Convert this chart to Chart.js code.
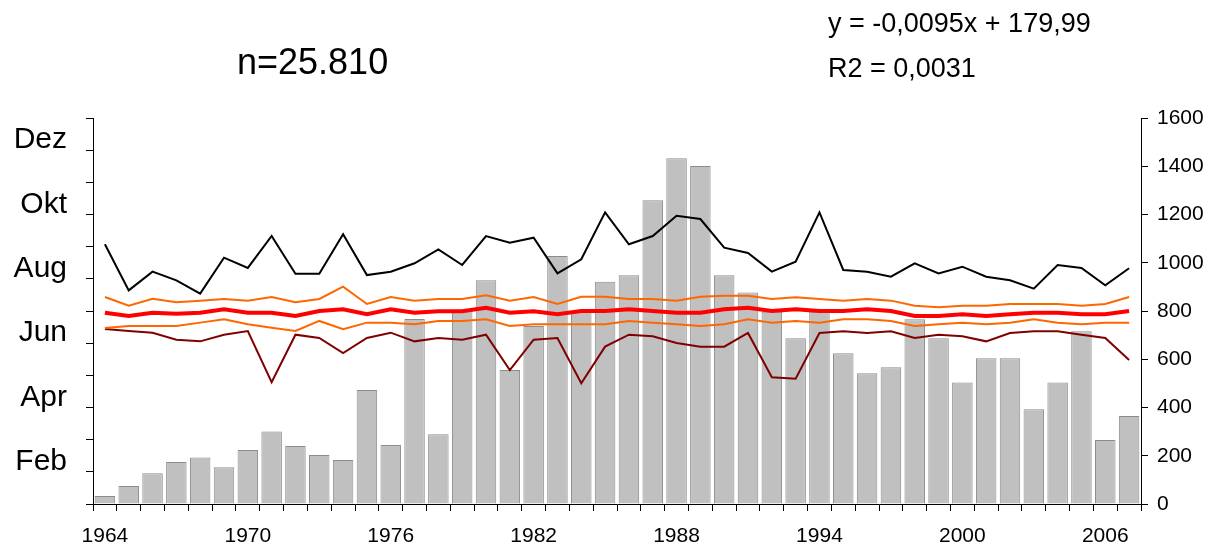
<!DOCTYPE html>
<html>
<head>
<meta charset="utf-8">
<script src="https://cdn.jsdelivr.net/npm/chart.js@4.4.1/dist/chart.umd.min.js"></script>
<style>
    body { margin: 0; background: #fff; }
    #wrap { position: relative; width: 1209px; height: 547px; }
    #chart { display: block; }
    .note { position: absolute; font-family: "Liberation Sans", Arial, sans-serif; line-height: 1; color: #000; white-space: nowrap; }
</style>
</head>
<body>
<div id="wrap">
    <canvas id="chart" width="1209" height="547"></canvas>
    <div class="note" style="left:237px; top:44px; font-size:36px;">n=25.810</div>
    <div class="note" style="left:828px; top:10px; font-size:27px;">y = -0,0095x + 179,99</div>
    <div class="note" style="left:828px; top:55px; font-size:27px;">R2 = 0,0031</div>
</div>
<script>
// Years on the x axis
var years = [
    1964, 1965, 1966, 1967, 1968, 1969, 1970, 1971, 1972, 1973, 1974,
    1975, 1976, 1977, 1978, 1979, 1980, 1981, 1982, 1983, 1984, 1985,
    1986, 1987, 1988, 1989, 1990, 1991, 1992, 1993, 1994, 1995, 1996,
    1997, 1998, 1999, 2000, 2001, 2002, 2003, 2004, 2005, 2006, 2007
];

// Number of records per year (bars, right axis)
var counts = [
    33, 75, 127, 174, 193, 152, 224, 301, 240, 203, 182,
    473, 245, 767, 289, 800, 927, 555, 738, 1028, 797, 921,
    948, 1259, 1433, 1401, 948, 877, 797, 687, 797, 625, 542,
    567, 766, 687, 504, 604, 604, 393, 504, 716, 265, 365
];

// Day of year (left axis)
var latestDay = [
    245.6, 202, 219.7, 211.5, 198.9, 232.9, 223.2, 253.4, 217.8, 217.8, 255,
    216.5, 219.7, 227.6, 240.8, 226, 253.4, 247.1, 251.8, 218.1, 231.4, 275.8,
    245.6, 253.4, 272.6, 269.5, 242.4, 237.4, 219.7, 229.1, 275.8, 221.3, 219.7,
    214.9, 227.6, 218.1, 224.4, 214.9, 211.5, 203.6, 226, 223.2, 206.8, 222.9
];
var upperQuartile = [
    195.7, 187.5, 194.1, 190.7, 192.3, 193.9, 192.3, 195.7, 190.7, 193.9, 205.5,
    189.1, 195.7, 192.3, 193.9, 193.9, 197.3, 192.3, 195.7, 189.1, 196, 196,
    193.9, 193.9, 192.3, 196, 197, 197, 193.9, 195.4, 193.9, 192.3, 193.9,
    192.3, 187.5, 186, 187.5, 187.5, 189.1, 189.1, 189.1, 187.5, 189.1, 195.7
];
var meanDay = [
    180.9, 177.8, 180.9, 180, 180.9, 184.1, 180.9, 180.9, 177.8, 182.5, 184.1,
    179.4, 184.1, 180.9, 182.2, 182.2, 185.6, 180.9, 182.2, 179.4, 182.5, 182.5,
    184.1, 182.5, 180.9, 180.9, 184.1, 185.6, 182.5, 184.1, 182.5, 182.5, 184.1,
    182.5, 177.8, 177.8, 179.4, 177.8, 179.4, 180.9, 180.9, 179.4, 179.4, 182.5
];
var lowerQuartile = [
    166.4, 168.3, 168.3, 168.3, 171.5, 174.7, 169.9, 166.7, 163.6, 173.1, 165.2,
    171.5, 171.5, 169.9, 173.1, 173.1, 174.7, 168.3, 169.9, 169.9, 169.9, 169.9,
    173.1, 171.5, 169.9, 168.3, 169.9, 174.7, 171.5, 173.1, 171.5, 174.7, 174.7,
    173.1, 168.3, 169.9, 171.5, 169.9, 171.5, 174.7, 171.5, 169.9, 171.5, 171.5
];
var earliestDay = [
    165.5, 163.6, 162, 155.4, 153.8, 160.1, 163.6, 115.1, 160.1, 157, 142.8,
    157, 162, 153.8, 157, 155.4, 160.1, 126.7, 155.4, 157, 114.1, 148.8,
    160.1, 158.6, 152.2, 148.8, 148.8, 161.7, 119.8, 118.5, 161.7, 163.3, 161.7,
    163.3, 157, 160.1, 158.6, 153.8, 161.7, 163.3, 163.3, 160.1, 157, 136.2
];

// Month labels for the 13 month boundaries of the left axis
var monthLabels = ['', 'Feb', '', 'Apr', '', 'Jun', '', 'Aug', '', 'Okt', '', 'Dez', ''];

var numFont = { family: '"Liberation Sans", Arial, sans-serif', size: 21 };
var monthFont = { family: '"Liberation Sans", Arial, sans-serif', size: 30 };

function lineSet(label, data, color, width, order) {
    return {
        type: 'line',
        label: label,
        data: data,
        borderColor: color,
        borderWidth: width,
        pointRadius: 0,
        tension: 0,
        fill: false,
        yAxisID: 'yDay',
        order: order
    };
}

new Chart('chart', {
    type: 'bar',
    data: {
        labels: years,
        datasets: [
            lineSet('Mittelwert', meanDay, '#ff0000', 4, 0),
            lineSet('Oberes Quartil', upperQuartile, '#ff6600', 2, 1),
            lineSet('Unteres Quartil', lowerQuartile, '#ff6600', 2, 2),
            lineSet('Spätestes', latestDay, '#000000', 2, 3),
            lineSet('Frühestes', earliestDay, '#800000', 2, 4),
            {
                type: 'bar',
                label: 'Anzahl',
                data: counts,
                backgroundColor: '#c0c0c0',
                borderColor: '#8c8c8c',
                borderWidth: 1,
                barPercentage: 0.86,
                categoryPercentage: 1,
                yAxisID: 'yCount',
                order: 10
            }
        ]
    },
    options: {
        responsive: false,
        animation: false,
        layout: { padding: { top: 118, left: 0, right: 0, bottom: 0 } },
        plugins: {
            legend: { display: false },
            tooltip: { enabled: false }
        },
        scales: {
            x: {
                grid: { display: true, drawOnChartArea: false, offset: true, tickLength: 7, color: '#000' },
                border: { display: true, color: '#000', width: 1 },
                ticks: {
                    autoSkip: false,
                    maxRotation: 0,
                    color: '#000',
                    font: numFont,
                    padding: 13,
                    callback: function(value, index) {
                        return index % 6 === 0 ? String(years[index]) : '';
                    }
                },
                afterFit: function(scale) { scale.height = 43; }
            },
            yDay: {
                position: 'left',
                min: 0,
                max: 365,
                afterBuildTicks: function(scale) {
                    scale.ticks = monthLabels.map(function(_, i) { return { value: i * 365 / 12 }; });
                },
                grid: { display: true, drawOnChartArea: false, tickLength: 7, color: '#000' },
                border: { display: true, color: '#000', width: 1 },
                ticks: {
                    autoSkip: false,
                    color: '#000',
                    font: monthFont,
                    padding: 19,
                    labelOffset: -10,
                    callback: function(value, index) { return monthLabels[index]; }
                },
                afterFit: function(scale) { scale.width = 93; }
            },
            yCount: {
                position: 'right',
                min: 0,
                max: 1600,
                grid: { display: true, drawOnChartArea: false, tickLength: 7, color: '#000' },
                border: { display: true, color: '#000', width: 1 },
                ticks: {
                    stepSize: 200,
                    color: '#000',
                    font: numFont,
                    padding: 9,
                    callback: function(value) { return String(value); }
                },
                afterFit: function(scale) { scale.width = 68; }
            }
        }
    }
});
</script>
</body>
</html>
